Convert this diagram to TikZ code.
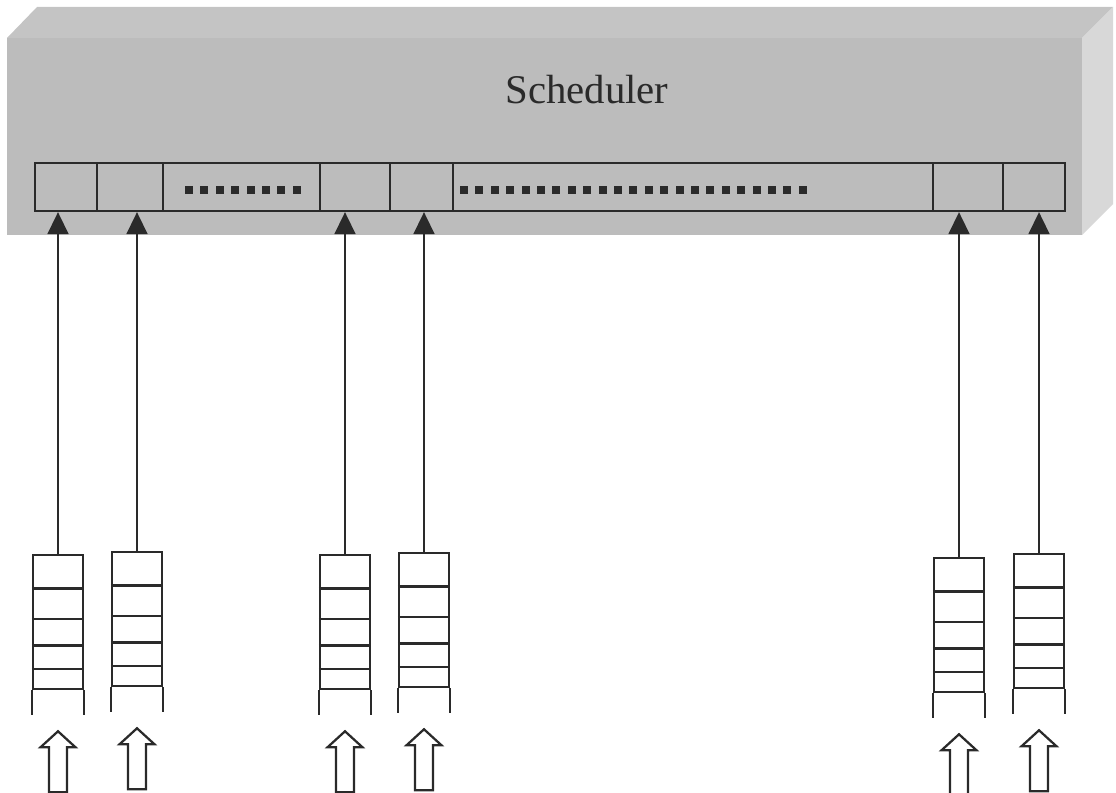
\documentclass[tikz,border=0pt]{standalone}
\usepackage{fontspec}
\setmainfont{Liberation Serif}
\usetikzlibrary{positioning,calc,arrows.meta}
\definecolor{schfront}{HTML}{BCBCBC}
\definecolor{schtop}{HTML}{C4C4C4}
\definecolor{schside}{HTML}{D8D8D8}
\definecolor{inkdark}{HTML}{2A2A2A}

\begin{document}
\begin{tikzpicture}[x=0.025cm, y=-0.025cm,
  slotrow/.style={draw=inkdark, line width=1.6pt, minimum width=25.75cm, minimum height=1.2cm, inner sep=0pt},
  slotline/.style={draw=inkdark, line width=1.6pt},
  qbox/.style={draw=inkdark, line width=1.6pt, minimum width=1.25cm, minimum height=3.35cm, inner sep=0pt, anchor=north},
  qline/.style={draw=inkdark, line width=1.6pt},
  conn/.style={draw=inkdark, line width=1.6pt, -{Triangle[width=0.52cm,length=0.55cm]}},
  hollow/.style={draw=inkdark, line width=1.6pt, fill=white, line join=miter},
]
\useasboundingbox (0,0) rectangle (1116,793);
% Scheduler block (front, top and side faces)
\fill[schtop] (7,38) -- (37,7) -- (1113,7) -- (1082,38) -- cycle;
\fill[schside] (1082,38) -- (1113,7) -- (1113,204) -- (1082,235) -- cycle;
\fill[schfront] (7,38) rectangle (1082,235);
\node[font=\fontsize{29}{34}\selectfont, text=inkdark] (sched) at (587,90) {Scheduler};

% Slot row
\node[slotrow] (row) at (550,187) {};
\foreach \x in {97,163,320,390,453,933,1003} {
  \draw[slotline] (\x,163) -- (\x,211);
}
\foreach \i in {0,...,7} {
  \fill[inkdark] ({185+15.4*\i},186) rectangle ++(8,8);
}
\foreach \i in {0,...,22} {
  \fill[inkdark] ({460+15.4*\i},186) rectangle ++(8,8);
}

% Input queues with their hollow arrows
\foreach \n/\x/\t in {1/58/554, 2/137/551, 3/345/554, 4/424/552, 5/959/557, 6/1039/553} {
  \node[qbox] (q\n) at (\x,\t) {};
  \foreach \f in {0.254,0.478,0.672,0.843} {
    \draw[qline] ($(q\n.north west)!\f!(q\n.south west)$) -- ($(q\n.north east)!\f!(q\n.south east)$);
  }
  \draw[qline] (q\n.south west) -- ++(0,25);
  \draw[qline] (q\n.south east) -- ++(0,25);
  \draw[hollow] ($(q\n.south)+(0,41)$) -- ++(17.5,16) -- ++(-8.5,0) -- ++(0,45)
    -- ++(-18,0) -- ++(0,-45) -- ++(-8.5,0) -- cycle;
  \draw[conn] (q\n.north) -- (q\n.north |- row.south);
}
\end{tikzpicture}
\end{document}
